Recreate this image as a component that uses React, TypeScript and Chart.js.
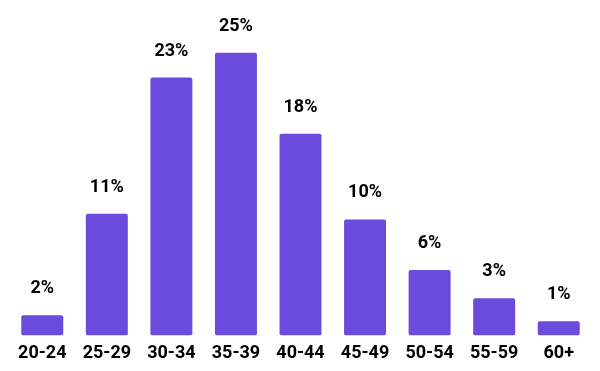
import React, { useEffect, useRef } from "react";
import { Chart, registerables } from "chart.js";

Chart.register(...registerables);

const categories = ["20-24", "25-29", "30-34", "35-39", "40-44", "45-49", "50-54", "55-59", "60+"];
const values = [1.8, 10.8, 22.9, 25.1, 17.9, 10.3, 5.8, 3.3, 1.25];
const valueLabels = ["2%", "11%", "23%", "25%", "18%", "10%", "6%", "3%", "1%"];

const barColor = "#6A4BDB";
const fontFamily = "Roboto, 'Noto Sans', sans-serif";

const labelPlugin = {
  id: "valueLabels",
  afterDatasetsDraw(chart: any) {
    const ctx = chart.ctx;
    const meta = chart.getDatasetMeta(0);
    ctx.save();
    ctx.font = `bold 18px ${fontFamily}`;
    ctx.fillStyle = "#000000";
    ctx.textAlign = "center";
    ctx.textBaseline = "alphabetic";
    meta.data.forEach((bar: any, i: number) => {
      ctx.fillText(valueLabels[i], bar.x, bar.y - 22);
    });
    ctx.restore();
  },
};

export default function App() {
  const ref = useRef<HTMLCanvasElement>(null);
  useEffect(() => {
    if (!ref.current) return;
    const chart = new Chart(ref.current, {
      type: "bar",
      data: {
        labels: categories,
        datasets: [
          {
            data: values,
            backgroundColor: barColor,
            borderRadius: 2,
            borderSkipped: false,
            barPercentage: 1,
            categoryPercentage: 0.65,
          },
        ],
      },
      options: {
        responsive: true,
        maintainAspectRatio: false,
        animation: false,
        layout: { padding: { left: 10, right: 9, top: 10, bottom: 0 } },
        plugins: { legend: { display: false }, tooltip: { enabled: false } },
        scales: {
          x: {
            grid: { display: false, drawTicks: false },
            border: { display: false },
            ticks: {
              color: "#000000",
              font: { family: fontFamily, size: 18, weight: "bold" },
              padding: 7,
            },
          },
          y: {
            display: false,
            min: 0,
            max: 28.9,
          },
        },
      },
      plugins: [labelPlugin],
    });
    return () => chart.destroy();
  }, []);
  return (
    <div style={{ position: "fixed", left: 0, top: 0, width: 600, height: 371, background: "#fff" }}>
      <canvas ref={ref} />
    </div>
  );
}
